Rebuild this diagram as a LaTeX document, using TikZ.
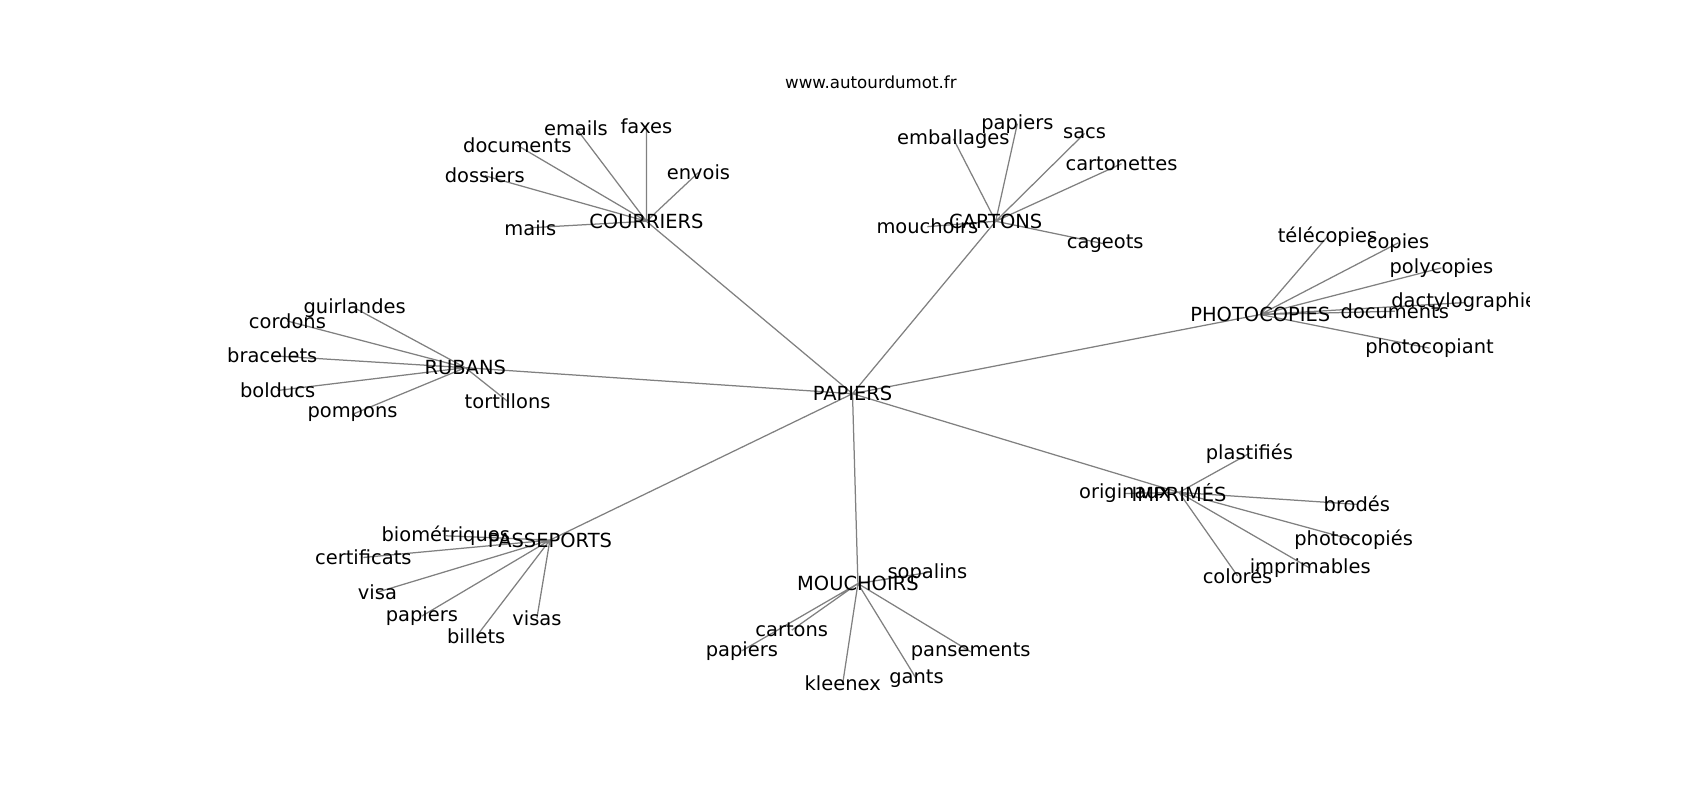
\documentclass[tikz,border=0pt]{standalone}
\usepackage{fontspec}
\setmainfont{DejaVu Sans}
\usetikzlibrary{backgrounds}
\tikzset{
	word/.style = {inner sep=0pt, font=\fontsize{14}{17}\selectfont},
	link/.style = {draw=gray, line width=0.9pt},
}
\begin{document}
\begin{tikzpicture}[x = 0.7806pt, y = -0.7806pt]
	\useasboundingbox (0,0) rectangle (1567.4,737.6);
	
	\node[font=\fontsize{12}{14}\selectfont](site) at (803,76) {www.autourdumot.fr};
	
	% the hubs
	\node[word](papiers) at (786,363) {PAPIERS};
	\node[word](courriers) at (596,204) {COURRIERS};
	\node[word](cartons) at (918,204) {CARTONS};
	\node[word](photocopies) at (1162,290) {PHOTOCOPIES};
	\node[word](rubans) at (429,339) {RUBANS};
	\node[word](imprimes) at (1087,454) {IMPRIMÉS};
	\node[word](passeports) at (507,498) {PASSEPORTS};
	\node[word](mouchoirs) at (791,538) {MOUCHOIRS};
	
	% courriers
	\node[word](emails) at (531,118) {emails};
	\node[word](faxes) at (596,116) {faxes};
	\node[word](cdocuments) at (477,134) {documents};
	\node[word](envois) at (644,159) {envois};
	\node[word](dossiers) at (447,162) {dossiers};
	\node[word](mails) at (489,210) {mails};
	
	% cartons
	\node[word](emballages) at (879,128) {emballages};
	\node[word](cpapiers) at (938,114) {papiers};
	\node[word](sacs) at (1000,123) {sacs};
	\node[word](cartonettes) at (1034,151) {cartonettes};
	\node[word](cmouchoirs) at (855,209) {mouchoirs};
	\node[word](cageots) at (1019,225) {cageots};
	
	% photocopies
	\node[word](telecopies) at (1224,218) {télécopies};
	\node[word](copies) at (1289,224) {copies};
	\node[word](polycopies) at (1329,247) {polycopies};
	\begin{scope}
		\clip (0,0) rectangle (1410,737.6);
		\node[word](dactylographie) at (1350,279) {dactylographie};
	\end{scope}
	\node[word](pdocuments) at (1286,287) {documents};
	\node[word](photocopiant) at (1318,321) {photocopiant};
	
	% rubans
	\node[word](guirlandes) at (327,284) {guirlandes};
	\node[word](cordons) at (265,296) {cordons};
	\node[word](bracelets) at (251,328) {bracelets};
	\node[word](bolducs) at (256,360) {bolducs};
	\node[word](pompons) at (325,382) {pompons};
	\node[word](tortillons) at (468,370) {tortillons};
	
	% imprimes
	\node[word](plastifies) at (1152,418) {plastifiés};
	\node[word](originaux) at (1037,455) {originaux};
	\node[word](brodes) at (1251,465) {brodés};
	\node[word](photocopies2) at (1248,498) {photocopiés};
	\node[word](imprimables) at (1208,524) {imprimables};
	\node[word](colores) at (1141,531) {colorés};
	
	% passeports
	\node[word](biometriques) at (411,494) {biométriques};
	\node[word](certificats) at (335,514) {certificats};
	\node[word](visa) at (348,546) {visa};
	\node[word](ppapiers) at (389,568) {papiers};
	\node[word](billets) at (439,587) {billets};
	\node[word](visas) at (495,570) {visas};
	
	% mouchoirs
	\node[word](sopalins) at (855,528) {sopalins};
	\node[word](mcartons) at (730,581) {cartons};
	\node[word](mpapiers) at (684,600) {papiers};
	\node[word](kleenex) at (777,630) {kleenex};
	\node[word](gants) at (845,626) {gants};
	\node[word](pansements) at (895,601) {pansements};
	
	\begin{scope}[on background layer]
		\draw[link] (papiers.center) -- (courriers.center)
			(papiers.center) -- (cartons.center)
			(papiers.center) -- (photocopies.center)
			(papiers.center) -- (rubans.center)
			(papiers.center) -- (imprimes.center)
			(papiers.center) -- (passeports.center)
			(papiers.center) -- (mouchoirs.center);
		\draw[link] (courriers.center) -- (emails.center)
			(courriers.center) -- (faxes.center)
			(courriers.center) -- (cdocuments.center)
			(courriers.center) -- (envois.center)
			(courriers.center) -- (dossiers.center)
			(courriers.center) -- (mails.center);
		\draw[link] (cartons.center) -- (emballages.center)
			(cartons.center) -- (cpapiers.center)
			(cartons.center) -- (sacs.center)
			(cartons.center) -- (cartonettes.center)
			(cartons.center) -- (cmouchoirs.center)
			(cartons.center) -- (cageots.center);
		\draw[link] (photocopies.center) -- (telecopies.center)
			(photocopies.center) -- (copies.center)
			(photocopies.center) -- (polycopies.center)
			(photocopies.center) -- (dactylographie.center)
			(photocopies.center) -- (pdocuments.center)
			(photocopies.center) -- (photocopiant.center);
		\draw[link] (rubans.center) -- (guirlandes.center)
			(rubans.center) -- (cordons.center)
			(rubans.center) -- (bracelets.center)
			(rubans.center) -- (bolducs.center)
			(rubans.center) -- (pompons.center)
			(rubans.center) -- (tortillons.center);
		\draw[link] (imprimes.center) -- (plastifies.center)
			(imprimes.center) -- (originaux.center)
			(imprimes.center) -- (brodes.center)
			(imprimes.center) -- (photocopies2.center)
			(imprimes.center) -- (imprimables.center)
			(imprimes.center) -- (colores.center);
		\draw[link] (passeports.center) -- (biometriques.center)
			(passeports.center) -- (certificats.center)
			(passeports.center) -- (visa.center)
			(passeports.center) -- (ppapiers.center)
			(passeports.center) -- (billets.center)
			(passeports.center) -- (visas.center);
		\draw[link] (mouchoirs.center) -- (sopalins.center)
			(mouchoirs.center) -- (mcartons.center)
			(mouchoirs.center) -- (mpapiers.center)
			(mouchoirs.center) -- (kleenex.center)
			(mouchoirs.center) -- (gants.center)
			(mouchoirs.center) -- (pansements.center);
	\end{scope}
\end{tikzpicture}
\end{document}
